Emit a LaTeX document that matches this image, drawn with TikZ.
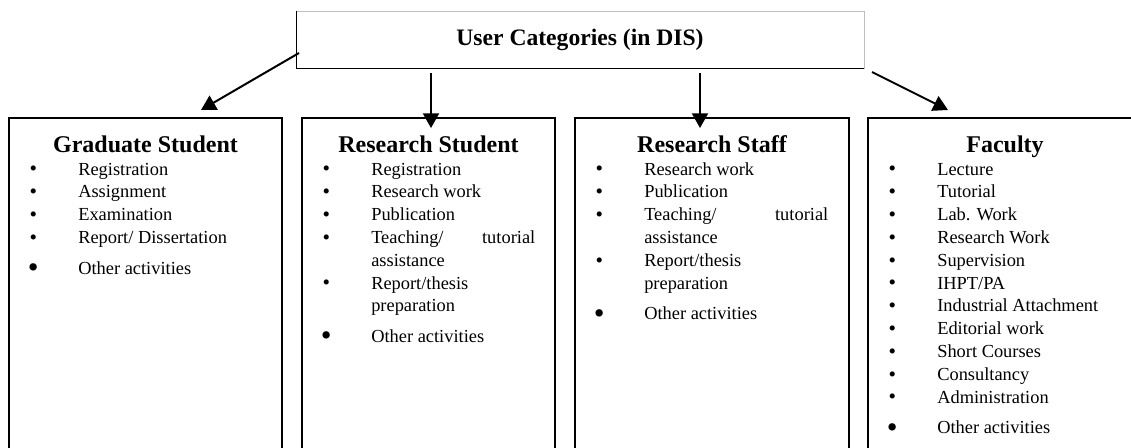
\documentclass[tikz,border=0pt]{standalone}
\usepackage{fontspec}
\setmainfont{Liberation Serif}
\usetikzlibrary{arrows.meta}

\tikzset{
  topbox/.style={draw=gray!50, line width=0.75pt, anchor=north west, outer sep=0pt,
    minimum width=426pt, minimum height=42.75pt, font=\fontsize{17.7}{20}\selectfont\bfseries},
  catbox/.style={draw, line width=1.5pt, anchor=north west, outer sep=0pt,
    inner sep=0pt, minimum height=270pt},
  head/.style={anchor=base, inner sep=0pt, font=\fontsize{18}{21}\selectfont\bfseries},
  items/.style={anchor=base west, inner sep=0pt, font=\fontsize{13.8}{17.1}\selectfont},
  arr/.style={line width=1.5pt, -{Triangle[length=11pt,width=12pt]}}
}
\newcommand{\sbul}{\makebox[9pt]{\raisebox{-0.6pt}{\fontsize{16}{16}\selectfont\textbullet}}}
\newcommand{\bbul}{\makebox[9pt]{\raisebox{-2.4pt}{\fontsize{23}{23}\selectfont\textbullet}}}

\begin{document}
\begin{tikzpicture}[x=0.75pt,y=-0.75pt]
  \path[use as bounding box] (0,0) rectangle (1131,447);
  \clip (0,0) rectangle (1131,447);

  % Nodos
  \node[topbox] (dis) at (296,11) {User Categories (in DIS)};
  \draw[line width=0.75pt] (dis.north west) |- (dis.south east);

  \node[catbox, minimum width=204.75pt] (gs) at (9,118) {};
  \node[catbox, minimum width=189.75pt] (rs) at (302,118) {};
  \node[catbox, minimum width=205.5pt] (rst) at (575,118) {};
  \node[catbox, minimum width=205.5pt] (fac) at (868,118) {};

  \node[head] (gsh) at ([yshift=-25.5pt]gs.north) {Graduate Student};
  \node[head] (rsh) at ([yshift=-25.5pt]rs.north) {Research Student};
  \node[head] (rsth) at ([yshift=-25.5pt]rst.north) {Research Staff};
  \node[head] (fach) at ([yshift=-25.5pt]fac.north) {Faculty};

  \node[items] (gsl) at ([xshift=13.5pt,yshift=-42.75pt]gs.north west) {%
    \begin{tabular}[t]{@{}l@{\hspace{29.25pt}}l@{}}
      \sbul & Registration\\
      \sbul & Assignment\\
      \sbul & Examination\\
      \sbul & Report/ Dissertation\\[6pt]
      \bbul & Other activities
    \end{tabular}};
  \node[items] (rsl) at ([xshift=13.5pt,yshift=-42.75pt]rs.north west) {%
    \begin{tabular}[t]{@{}l@{\hspace{29.25pt}}l@{}}
      \sbul & Registration\\
      \sbul & Research work\\
      \sbul & Publication\\
      \sbul & \makebox[123pt][s]{Teaching/ tutorial}\\
            & assistance\\
      \sbul & Report/thesis\\
            & preparation\\[6pt]
      \bbul & Other activities
    \end{tabular}};
  \node[items] (rstl) at ([xshift=13.5pt,yshift=-42.75pt]rst.north west) {%
    \begin{tabular}[t]{@{}l@{\hspace{29.25pt}}l@{}}
      \sbul & Research work\\
      \sbul & Publication\\
      \sbul & \makebox[138pt][s]{Teaching/ tutorial}\\
            & assistance\\
      \sbul & Report/thesis\\
            & preparation\\[6pt]
      \bbul & Other activities
    \end{tabular}};
  \node[items] (facl) at ([xshift=13.5pt,yshift=-42.75pt]fac.north west) {%
    \begin{tabular}[t]{@{}l@{\hspace{29.25pt}}l@{}}
      \sbul & Lecture\\
      \sbul & Tutorial\\
      \sbul & Lab. Work\\
      \sbul & Research Work\\
      \sbul & Supervision\\
      \sbul & IHPT/PA\\
      \sbul & Industrial Attachment\\
      \sbul & Editorial work\\
      \sbul & Short Courses\\
      \sbul & Consultancy\\
      \sbul & Administration\\[6pt]
      \bbul & Other activities
    \end{tabular}};

  \coordinate (gsfrom) at (299,53);
  \coordinate (gsto) at (201,110);
  \coordinate (rsfrom) at (431,73);
  \coordinate (rsto) at (431,128);
  \coordinate (rstfrom) at (700,73);
  \coordinate (rstto) at (700,128);
  \coordinate (facfrom) at (872,72);
  \coordinate (facto) at (948,110);

  \draw[arr] (gsfrom) -- (gsto);
  \draw[arr] (rsfrom) -- (rsto);
  \draw[arr] (rstfrom) -- (rstto);
  \draw[arr] (facfrom) -- (facto);
\end{tikzpicture}
\end{document}
